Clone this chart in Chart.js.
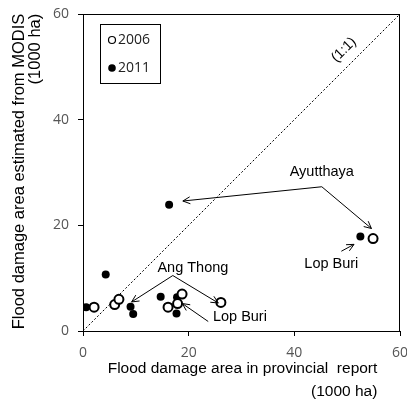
<!DOCTYPE html>
<html><head><meta charset="utf-8">
<script src="https://cdn.jsdelivr.net/npm/chart.js@4"></script>
<style>html,body{margin:0;padding:0;background:#fff}</style>
</head><body>
<canvas id="c" width="407" height="403"></canvas>
<script>
// ---- data ----
const x2006 = [2.1, 6.0, 6.8, 16.1, 17.9, 18.75, 26.1, 54.9];
const y2006 = [4.5, 5.0, 6.0, 4.5, 5.2, 7.0, 5.4, 17.5];
const x2011 = [0.6, 4.3, 9.0, 9.5, 14.7, 17.8, 17.7, 16.3, 52.5];
const y2011 = [4.5, 10.7, 4.6, 3.2, 6.5, 6.4, 3.3, 23.9, 17.9];
const oneToOne = [0, 60];
const seriesNames = ['2006', '2011'];
const xTitle = ['Flood damage area in provincial  report', '(1000 ha)'];
const yTitle = ['Flood damage area estimated from MODIS', '(1000 ha)'];
const lineLabel = '(1:1)';
// annotation labels (data coordinates)
const notes = [
  {text: 'Ayutthaya', at: [45.2, 30.1], from: [45.2, 27.3], to: [[18.9, 24.6], [54.6, 19.4]]},
  {text: 'Lop Buri', at: [47.0, 12.75], from: [48.9, 15.1], to: [[51.3, 16.4]]},
  {text: 'Ang Thong', at: [20.8, 12.0], from: [17.0, 10.5], to: [[9.2, 5.5], [25.6, 5.3]]},
  {text: 'Lop Buri', at: [29.7, 2.6], from: [23.7, 1.8], to: [[18.8, 5.2]]}
];

const SANS = '"Liberation Sans", Arial, sans-serif';
const TICK_FONT_FAMILY = '"Open Sans", "Noto Sans", sans-serif';

function arrow(ctx, x1, y1, x2, y2) {
  ctx.beginPath(); ctx.moveTo(x1, y1); ctx.lineTo(x2, y2); ctx.stroke();
  const a = Math.atan2(y2 - y1, x2 - x1), L = 8, w = 0.45;
  ctx.beginPath();
  ctx.moveTo(x2 - L * Math.cos(a - w), y2 - L * Math.sin(a - w));
  ctx.lineTo(x2, y2);
  ctx.lineTo(x2 - L * Math.cos(a + w), y2 - L * Math.sin(a + w));
  ctx.stroke();
}

const decor = {
  id: 'decor',
  afterDatasetsDraw(chart) {
    const {ctx, chartArea: ca, scales: {x, y}} = chart;
    ctx.save();
    // frame
    ctx.strokeStyle = '#000'; ctx.lineWidth = 1;
    ctx.strokeRect(ca.left + 0.5, ca.top + 0.5, ca.right - ca.left - 1, ca.bottom - ca.top);
    // annotations
    ctx.fillStyle = '#000'; ctx.font = '14.5px ' + SANS;
    ctx.textAlign = 'center'; ctx.textBaseline = 'middle';
    ctx.lineWidth = 1;
    notes.forEach(n => {
      ctx.fillText(n.text, x.getPixelForValue(n.at[0]), y.getPixelForValue(n.at[1]));
      const fx = x.getPixelForValue(n.from[0]), fy = y.getPixelForValue(n.from[1]);
      n.to.forEach(t => arrow(ctx, fx, fy, x.getPixelForValue(t[0]), y.getPixelForValue(t[1])));
    });
    // (1:1) label
    ctx.save();
    ctx.translate(x.getPixelForValue(49.4), y.getPixelForValue(53.2));
    ctx.rotate(-Math.PI / 4);
    ctx.font = '14px ' + SANS;
    ctx.fillText(lineLabel, 0, 0);
    ctx.restore();
    // legend
    const lx = ca.left + 17, ly = ca.top + 10;
    ctx.strokeRect(lx + 0.5, ly + 0.5, 60, 59);
    ctx.font = '14px ' + TICK_FONT_FAMILY; ctx.textAlign = 'left';
    ctx.beginPath(); ctx.arc(lx + 12, ly + 16, 3.5, 0, Math.PI * 2);
    ctx.fillStyle = '#fff'; ctx.fill(); ctx.lineWidth = 1.2; ctx.stroke();
    ctx.beginPath(); ctx.arc(lx + 12, ly + 44, 3.8, 0, Math.PI * 2);
    ctx.fillStyle = '#000'; ctx.fill();
    ctx.fillStyle = '#222';
    ctx.fillText(seriesNames[0], lx + 18, ly + 16);
    ctx.fillText(seriesNames[1], lx + 18, ly + 44);
    // axis titles
    ctx.font = '15.5px ' + SANS; ctx.fillStyle = '#000';
    const xc = (ca.left + ca.right) / 2 + 1;
    ctx.textAlign = 'center';
    ctx.fillText(xTitle[0], xc, 369);
    const w0 = ctx.measureText(xTitle[0]).width;
    ctx.textAlign = 'right';
    ctx.fillText(xTitle[1], xc + w0 / 2, 392);
    ctx.save();
    ctx.font = '16.5px ' + SANS;
    const yc = (ca.top + ca.bottom) / 2 - 1;
    ctx.translate(19, yc); ctx.rotate(-Math.PI / 2);
    ctx.textAlign = 'center';
    ctx.fillText(yTitle[0], 0, 0);
    const w1 = ctx.measureText(yTitle[0]).width;
    ctx.textAlign = 'right';
    ctx.fillText(yTitle[1], w1 / 2, 16);
    ctx.restore();
    ctx.restore();
  }
};

const axis = (fitFn) => ({
  type: 'linear', min: 0, max: 60,
  ticks: {stepSize: 20, color: '#555', font: {family: TICK_FONT_FAMILY, size: 14}, padding: 9},
  grid: {drawOnChartArea: false, drawTicks: true, tickLength: 5, color: '#000', tickColor: '#000'},
  border: {color: '#000', width: 1},
  afterFit: fitFn
});

new Chart(document.getElementById('c'), {
  type: 'scatter',
  data: {
    datasets: [
      {label: lineLabel, type: 'line', data: oneToOne.map(v => ({x: v, y: v})),
       borderColor: '#000', borderWidth: 1, borderDash: [2, 2], pointRadius: 0, fill: false, order: 3},
      {label: seriesNames[0], data: x2006.map((v, i) => ({x: v, y: y2006[i]})),
       pointRadius: 4.5, pointBackgroundColor: '#fff', pointBorderColor: '#000', pointBorderWidth: 2, order: 1},
      {label: seriesNames[1], data: x2011.map((v, i) => ({x: v, y: y2011[i]})),
       pointRadius: 4, pointBackgroundColor: '#000', pointBorderColor: '#000', pointBorderWidth: 0, order: 2}
    ]
  },
  options: {
    responsive: false, animation: false, devicePixelRatio: 1,
    layout: {padding: {left: 0, top: 14, right: 7, bottom: 0}},
    plugins: {legend: {display: false}, tooltip: {enabled: false}},
    scales: {
      x: axis(s => { s.height = 72; s.paddingLeft = 0; s.paddingRight = 0; }),
      y: axis(s => { s.width = 83; s.paddingTop = 0; s.paddingBottom = 0; })
    }
  },
  plugins: [decor]
});
</script>
</body></html>
